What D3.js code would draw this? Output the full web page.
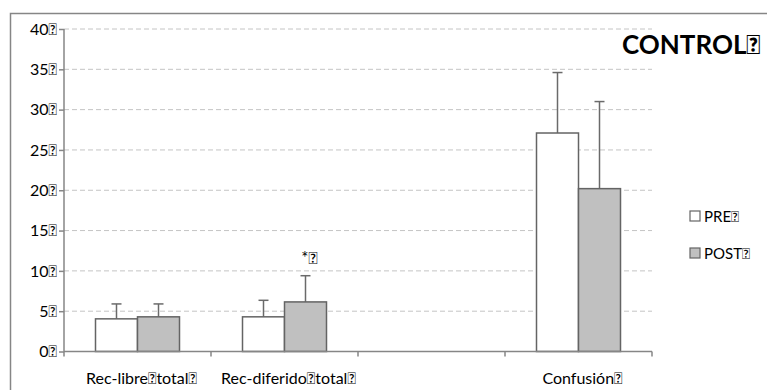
<!DOCTYPE html>
<html>
<head>
<meta charset="utf-8">
<script src="https://cdn.jsdelivr.net/npm/d3@7"></script>
<style>
  body { margin: 0; background: #fff; }
  text { font-family: Lato, "Noto Sans", sans-serif; fill: #000; }
</style>
</head>
<body>
<div id="chart"></div>
<script>
const W = 767, H = 390;
const box = '\uF020';

// data
const categories = ['Rec-libre' + box + 'total' + box, 'Rec-diferido' + box + 'total' + box, '', 'Confusión' + box];
const series = ['PRE', 'POST'];
const preMean = [4.05, 4.3, null, 27.1];
const postMean = [4.3, 6.15, null, 20.2];
const preSD = [1.85, 2.05, null, 7.5];
const postSD = [1.6, 3.25, null, 10.8];
const yTicks = [0, 5, 10, 15, 20, 25, 30, 35, 40];

const axisCol = '#868686', barStroke = '#646464', gridCol = '#c4c4c4';
const fills = { PRE: '#ffffff', POST: '#c0c0c0' };

const svg = d3.select('#chart').append('svg')
    .attr('width', W)
    .attr('height', H);

// outer chart frame (cut off at right and bottom)
svg.append('rect')
    .attr('x', 10.5).attr('y', 13.5)
    .attr('width', W + 10).attr('height', H + 10)
    .attr('fill', 'none').attr('stroke', axisCol).attr('stroke-width', 1.5);

const x = d3.scaleBand()
    .domain(d3.range(categories.length))
    .range([64, 652]);

const xs = d3.scaleBand()
    .domain(series)
    .range([0, x.bandwidth()])
    .paddingOuter(0.75);

const y = d3.scaleLinear()
    .domain([0, 40])
    .range([351.5, 29]);

// gridlines
svg.append('g')
    .selectAll('line')
    .data(yTicks.filter(d => d > 0))
    .join('line')
    .attr('x1', 64).attr('x2', 652)
    .attr('y1', d => y(d)).attr('y2', d => y(d))
    .attr('stroke', gridCol).attr('stroke-width', 1)
    .attr('stroke-dasharray', '5,3');

// y axis
const yAxis = svg.append('g')
    .attr('transform', 'translate(64,0)')
    .call(d3.axisLeft(y).tickValues(yTicks).tickSize(5).tickPadding(2).tickFormat(d => d + box));
yAxis.selectAll('path, line').attr('stroke', axisCol).attr('stroke-width', 1.5);
yAxis.select('.domain').attr('d', 'M0,' + y(40) + 'V' + y(0));
yAxis.selectAll('text').style('font-family', 'Lato').style('font-size', '16px').attr('fill', '#000');

// bars
const rows = [];
categories.forEach((c, i) => {
  if (preMean[i] != null) rows.push({ i, s: 'PRE', v: preMean[i], e: preSD[i] });
  if (postMean[i] != null) rows.push({ i, s: 'POST', v: postMean[i], e: postSD[i] });
});

const bars = svg.append('g').selectAll('g')
    .data(rows)
    .join('g')
    .attr('transform', d => 'translate(' + (x(d.i) + xs(d.s)) + ',0)');

// error bars (upper half only)
bars.append('line')
    .attr('x1', xs.bandwidth() / 2).attr('x2', xs.bandwidth() / 2)
    .attr('y1', d => y(d.v)).attr('y2', d => y(d.v + d.e))
    .attr('stroke', '#6a6a6a').attr('stroke-width', 1.5);
bars.append('line')
    .attr('x1', xs.bandwidth() / 2 - 5).attr('x2', xs.bandwidth() / 2 + 5)
    .attr('y1', d => y(d.v + d.e)).attr('y2', d => y(d.v + d.e))
    .attr('stroke', '#6a6a6a').attr('stroke-width', 1.5);

bars.append('rect')
    .attr('x', 0)
    .attr('y', d => y(d.v))
    .attr('width', xs.bandwidth())
    .attr('height', d => y(0) - y(d.v))
    .attr('fill', d => fills[d.s])
    .attr('stroke', barStroke).attr('stroke-width', 1.5);

// x axis
const xg = svg.append('g');
xg.append('line')
    .attr('x1', 64).attr('x2', 652)
    .attr('y1', y(0)).attr('y2', y(0))
    .attr('stroke', axisCol).attr('stroke-width', 1.5);
xg.selectAll('.tk')
    .data(d3.range(categories.length + 1))
    .join('line')
    .attr('class', 'tk')
    .attr('x1', i => x.range()[0] + i * x.step())
    .attr('x2', i => x.range()[0] + i * x.step())
    .attr('y1', y(0)).attr('y2', y(0) + 5)
    .attr('stroke', axisCol).attr('stroke-width', 1.5);
xg.selectAll('.lbl')
    .data(categories)
    .join('text')
    .attr('class', 'lbl')
    .attr('x', (d, i) => x(i) + x.bandwidth() / 2 + 4)
    .attr('y', 384)
    .attr('text-anchor', 'middle')
    .style('font-size', '16px')
    .text(d => d);

// significance mark
svg.append('text')
    .attr('x', x(1) + xs('POST') + xs.bandwidth() / 2 + 4)
    .attr('y', y(postMean[1] + postSD[1]) - 12)
    .attr('text-anchor', 'middle')
    .style('font-size', '17px')
    .text('*' + box);

// title
svg.append('text')
    .attr('x', 622).attr('y', 54)
    .style('font-size', '26px').style('font-weight', 'bold')
    .text('CONTROL' + box);

// legend
const lg = svg.append('g').selectAll('g')
    .data(series)
    .join('g')
    .attr('transform', (d, i) => 'translate(690,' + (211 + i * 37) + ')');
lg.append('rect')
    .attr('width', 10).attr('height', 10)
    .attr('fill', d => fills[d])
    .attr('stroke', barStroke).attr('stroke-width', 1.2);
lg.append('text')
    .attr('x', 14).attr('y', 11)
    .style('font-size', '15px')
    .text(d => d + box);
</script>
</body>
</html>
